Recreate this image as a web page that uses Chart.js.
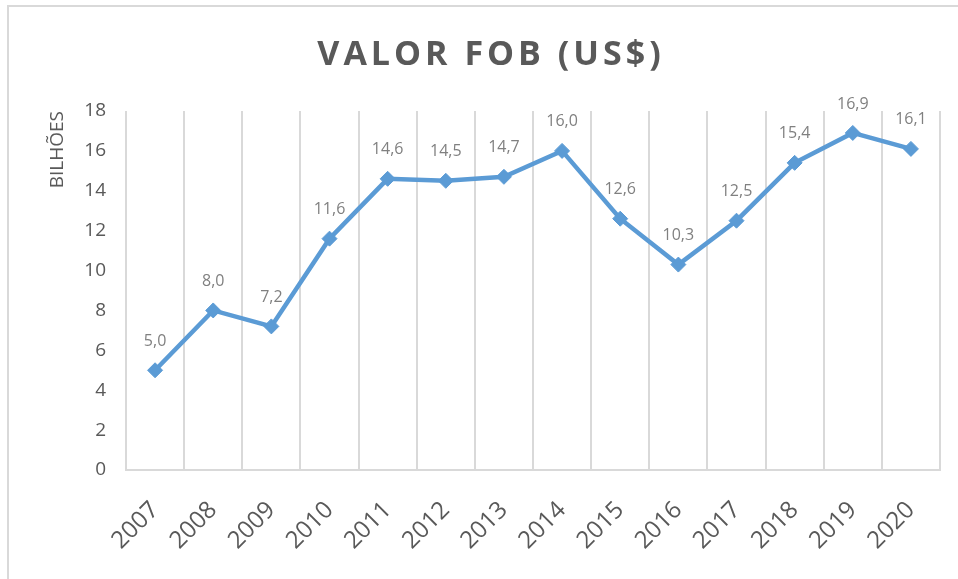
<!DOCTYPE html>
<html>
<head>
<meta charset="utf-8">
<script src="https://cdn.jsdelivr.net/npm/chart.js@4.4.1/dist/chart.umd.min.js"></script>
<style>
  html, body { margin: 0; padding: 0; background: #fff; }
  #wrap { position: relative; width: 958px; height: 579px; overflow: hidden; }
  #frame { position: absolute; left: 7px; top: 5px; width: 1000px; height: 700px;
           border-left: 2px solid #d9d9d9; border-top: 2px solid #d9d9d9; }
  canvas { position: absolute; left: 0; top: 0; }
</style>
</head>
<body>
<div id="wrap">
  <div id="frame"></div>
  <canvas id="c" width="958" height="579"></canvas>
</div>
<script>
const categories = ["2007","2008","2009","2010","2011","2012","2013","2014","2015","2016","2017","2018","2019","2020"];
const valorFob = [5.0, 8.0, 7.2, 11.6, 14.6, 14.5, 14.7, 16.0, 12.6, 10.3, 12.5, 15.4, 16.9, 16.1];
const yTicks = [0, 2, 4, 6, 8, 10, 12, 14, 16, 18];
const chartTitle = "VALOR FOB (US$)";
const yTitle = "BILHÕES";

const dataLabels = {
  id: 'dataLabels',
  afterDatasetsDraw(chart) {
    const ctx = chart.ctx;
    const meta = chart.getDatasetMeta(0);
    ctx.save();
    ctx.font = '16px "Open Sans"';
    ctx.fillStyle = '#808080';
    ctx.textAlign = 'center';
    ctx.textBaseline = 'middle';
    meta.data.forEach((pt, i) => {
      const v = chart.data.datasets[0].data[i];
      ctx.fillText(v.toFixed(1).replace('.', ','), pt.x, pt.y - 29);
    });
    ctx.restore();
  }
};

const titleDraw = {
  id: 'titleDraw',
  afterDraw(chart) {
    const ctx = chart.ctx;
    ctx.save();
    ctx.font = 'bold 34px "Open Sans"';
    ctx.fillStyle = '#595959';
    ctx.textAlign = 'center';
    ctx.textBaseline = 'middle';
    ctx.letterSpacing = '4px';
    ctx.fillText(chartTitle, 491, 55);
    ctx.restore();
  }
};

new Chart(document.getElementById('c'), {
  type: 'line',
  data: {
    labels: categories,
    datasets: [{
      data: valorFob,
      borderColor: '#5B9BD5',
      backgroundColor: '#5B9BD5',
      borderWidth: 4.5,
      pointStyle: 'rectRot',
      pointRadius: 7.5,
      pointHoverRadius: 7.5,
      pointBorderWidth: 1,
      tension: 0,
      fill: false
    }]
  },
  options: {
    responsive: false,
    animation: false,
    devicePixelRatio: 1,
    layout: { padding: { left: 0, right: 18, top: 111, bottom: 0 } },
    plugins: {
      legend: { display: false },
      tooltip: { enabled: false },
      title: { display: false }
    },
    scales: {
      x: {
        offset: true,
        grid: { display: true, offset: true, color: '#d9d9d9', lineWidth: 2, drawTicks: false },
        border: { display: true, color: '#d9d9d9', width: 2 },
        ticks: {
          color: '#595959',
          font: { family: '"Open Sans"', size: 24 },
          minRotation: 45, maxRotation: 45,
          padding: 26
        },
        afterFit(scale) { scale.height = 109; }
      },
      y: {
        min: 0, max: 18,
        afterBuildTicks(scale) { scale.ticks = yTicks.map(v => ({ value: v })); },
        grid: { display: false, drawTicks: false },
        border: { display: false },
        ticks: {
          color: '#595959',
          font: { family: '"Open Sans"', size: 19 },
          padding: 20
        },
        title: {
          display: true,
          text: yTitle,
          align: 'end',
          color: '#595959',
          font: { family: '"Open Sans"', size: 19 },
          padding: { top: 46, bottom: 0 }
        },
        afterFit(scale) { scale.width = 126; }
      }
    }
  },
  plugins: [dataLabels, titleDraw]
});
</script>
</body>
</html>
